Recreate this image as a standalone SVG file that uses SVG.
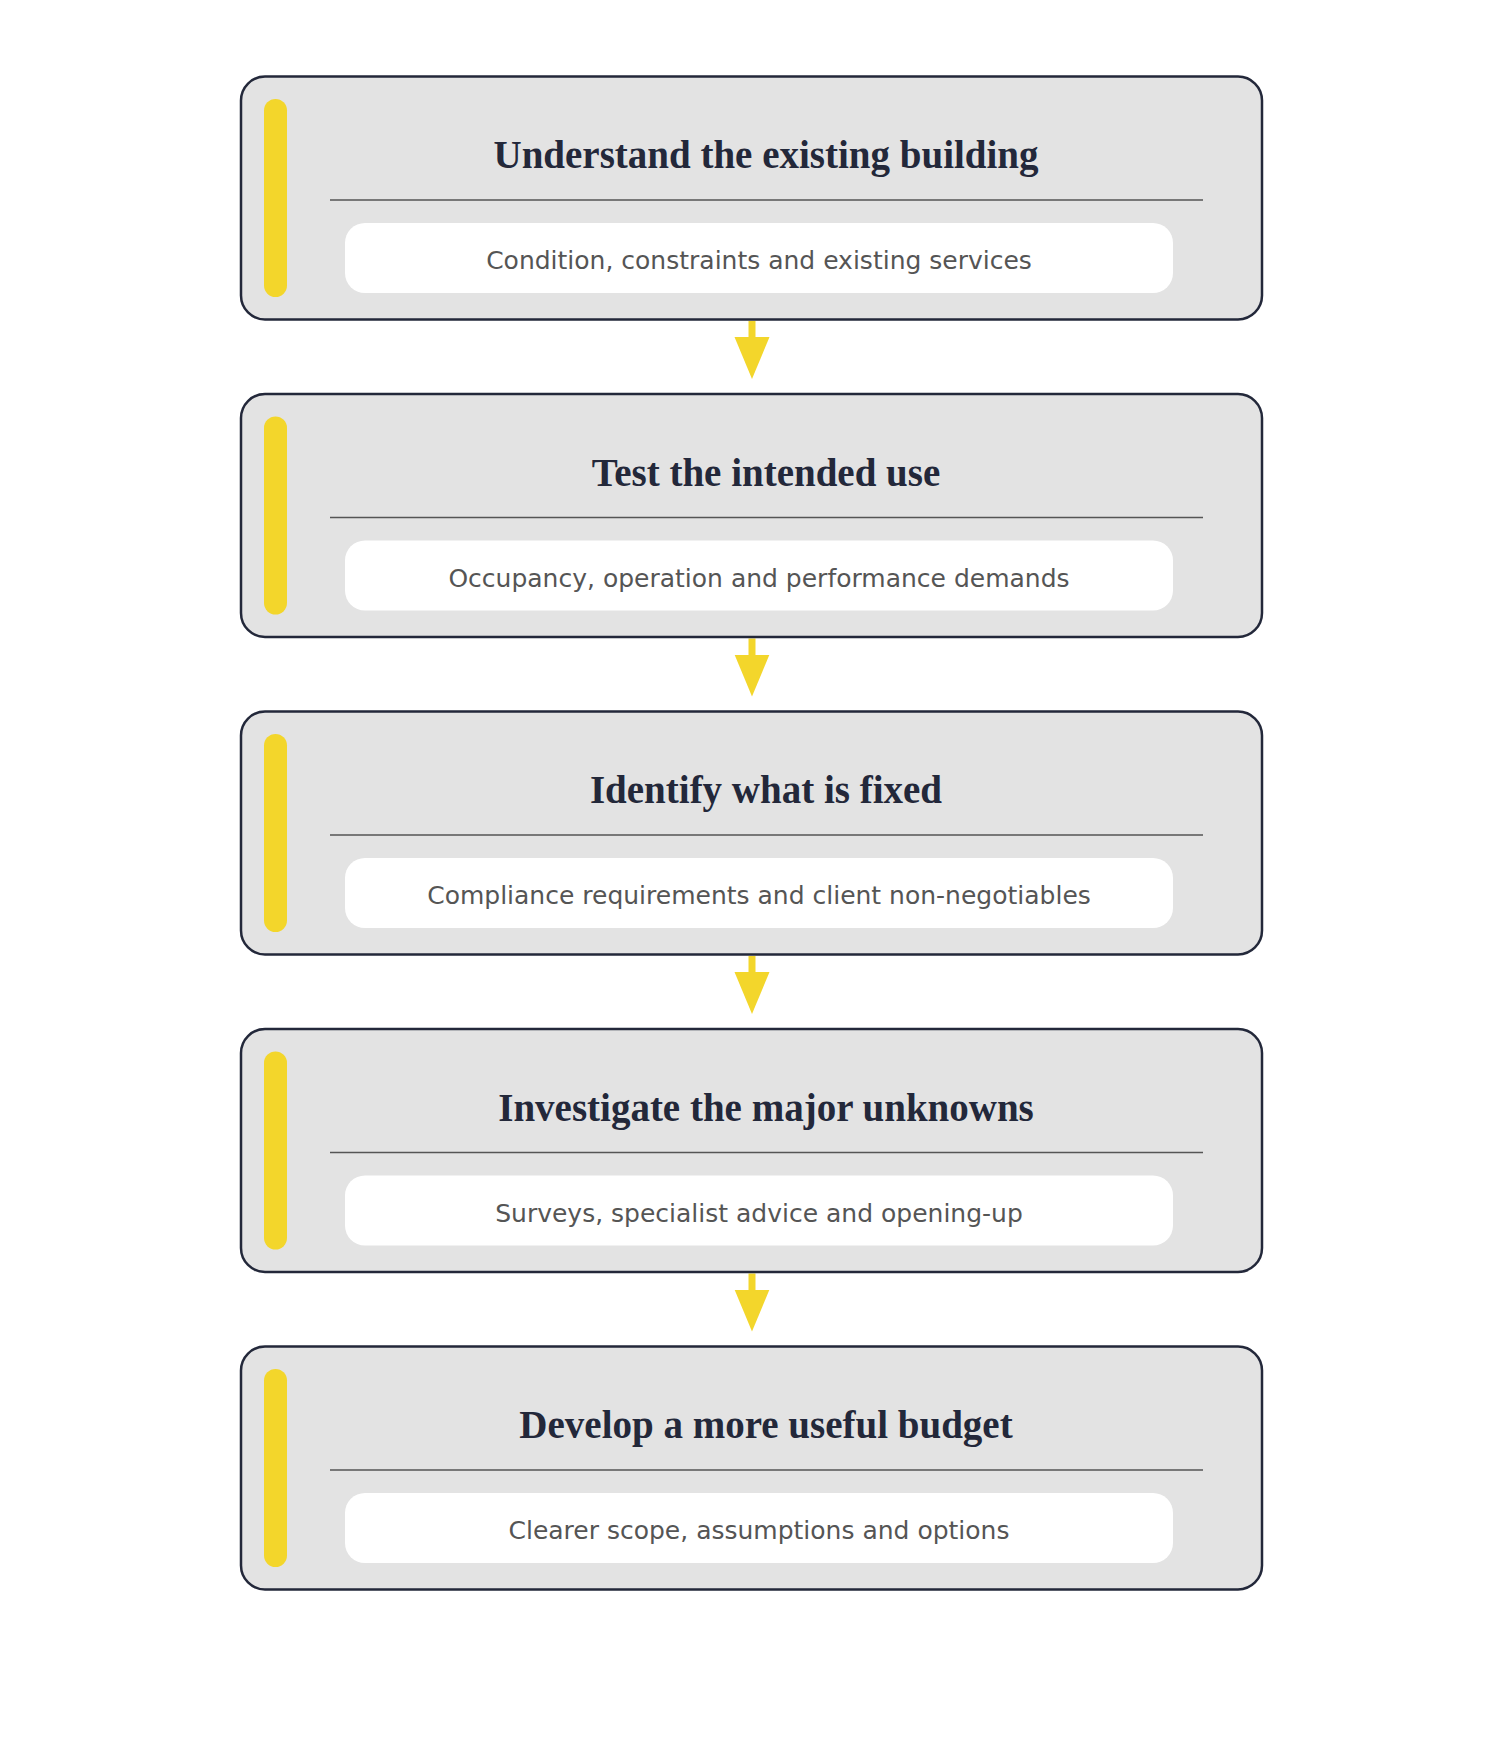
<svg xmlns="http://www.w3.org/2000/svg" width="1500" height="1760" viewBox="0 0 1500 1760">
<style>
.box{fill:#e3e3e3;stroke:#23283a;stroke-width:2.5}
.bar{fill:#f3d62b}
.div{stroke:#555;stroke-width:1.5}
.pill{fill:#fff}
.t{font-family:"Liberation Serif","DejaVu Serif",serif;font-weight:bold;font-size:39px;fill:#23283a;text-anchor:middle}
.s{font-family:"DejaVu Sans",sans-serif;font-size:25px;fill:#555;text-anchor:middle}
.arr{stroke:#f3d62b;stroke-width:7}
</style>
<defs>
<marker id="ah" markerWidth="6" markerHeight="6" refX="3" refY="3" orient="auto" markerUnits="strokeWidth"><path d="M0,0.5 L6,3 L0,5.5 Z" fill="#f3d62b"/></marker>
</defs>
<g id="connectors">
<line class="arr" x1="752" y1="321" x2="752" y2="358" marker-end="url(#ah)"/>
<line class="arr" x1="752" y1="638.5" x2="752" y2="675.5" marker-end="url(#ah)"/>
<line class="arr" x1="752" y1="956" x2="752" y2="993" marker-end="url(#ah)"/>
<line class="arr" x1="752" y1="1273.5" x2="752" y2="1310.5" marker-end="url(#ah)"/>
</g>
<g id="n1" transform="translate(0,0)">
<rect class="box" x="241" y="76.5" width="1021" height="243" rx="24"/>
<rect class="bar" x="264" y="99" width="23" height="198" rx="11.5"/>
<text class="t" x="766" y="168">Understand the existing building</text>
<line class="div" x1="330" y1="200" x2="1203" y2="200"/>
<rect class="pill" x="345" y="223" width="828" height="70" rx="20"/>
<text class="s" x="759" y="269">Condition, constraints and existing services</text>
</g>
<g id="n2" transform="translate(0,317.5)">
<rect class="box" x="241" y="76.5" width="1021" height="243" rx="24"/>
<rect class="bar" x="264" y="99" width="23" height="198" rx="11.5"/>
<text class="t" x="766" y="168">Test the intended use</text>
<line class="div" x1="330" y1="200" x2="1203" y2="200"/>
<rect class="pill" x="345" y="223" width="828" height="70" rx="20"/>
<text class="s" x="759" y="269">Occupancy, operation and performance demands</text>
</g>
<g id="n3" transform="translate(0,635)">
<rect class="box" x="241" y="76.5" width="1021" height="243" rx="24"/>
<rect class="bar" x="264" y="99" width="23" height="198" rx="11.5"/>
<text class="t" x="766" y="168">Identify what is fixed</text>
<line class="div" x1="330" y1="200" x2="1203" y2="200"/>
<rect class="pill" x="345" y="223" width="828" height="70" rx="20"/>
<text class="s" x="759" y="269">Compliance requirements and client non-negotiables</text>
</g>
<g id="n4" transform="translate(0,952.5)">
<rect class="box" x="241" y="76.5" width="1021" height="243" rx="24"/>
<rect class="bar" x="264" y="99" width="23" height="198" rx="11.5"/>
<text class="t" x="766" y="168">Investigate the major unknowns</text>
<line class="div" x1="330" y1="200" x2="1203" y2="200"/>
<rect class="pill" x="345" y="223" width="828" height="70" rx="20"/>
<text class="s" x="759" y="269">Surveys, specialist advice and opening-up</text>
</g>
<g id="n5" transform="translate(0,1270)">
<rect class="box" x="241" y="76.5" width="1021" height="243" rx="24"/>
<rect class="bar" x="264" y="99" width="23" height="198" rx="11.5"/>
<text class="t" x="766" y="168">Develop a more useful budget</text>
<line class="div" x1="330" y1="200" x2="1203" y2="200"/>
<rect class="pill" x="345" y="223" width="828" height="70" rx="20"/>
<text class="s" x="759" y="269">Clearer scope, assumptions and options</text>
</g>
</svg>
